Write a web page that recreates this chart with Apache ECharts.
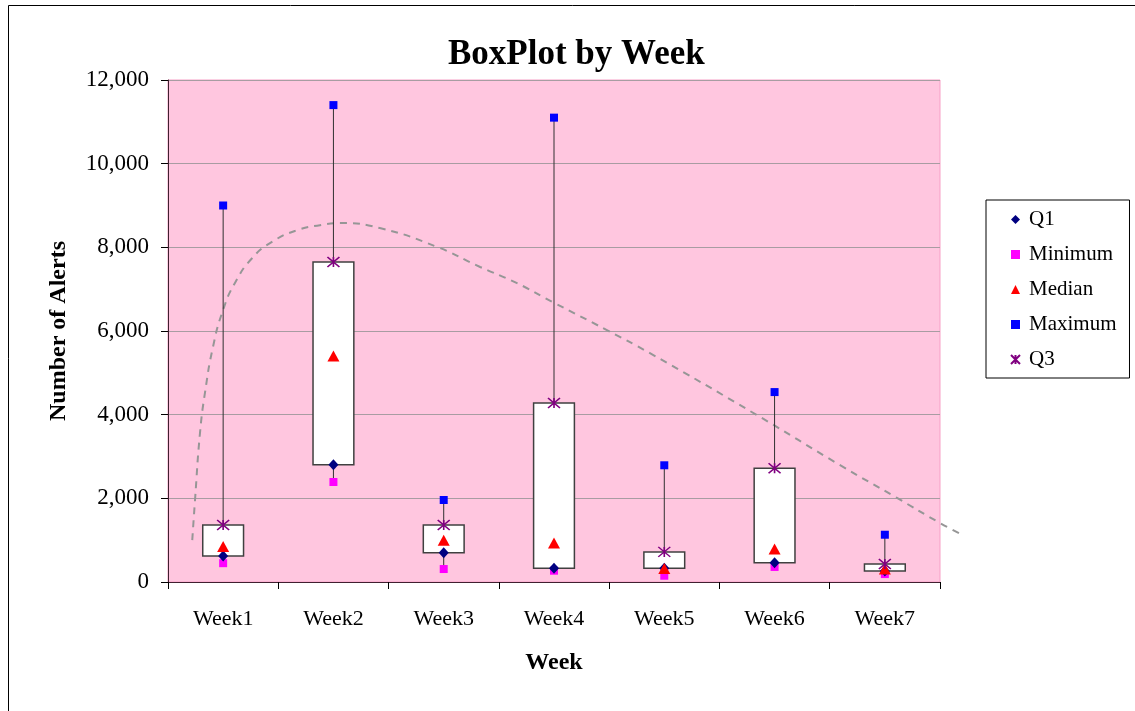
<!DOCTYPE html>
<html>
<head>
<meta charset="utf-8">
<script src="https://cdn.jsdelivr.net/npm/echarts@6/dist/echarts.min.js"></script>
<style>
html,body{margin:0;padding:0;background:#fff;}
#chart{width:1135px;height:711px;}
</style>
</head>
<body>
<div id="chart"></div>
<script>
// ---- data ----
var categories = ['Week1', 'Week2', 'Week3', 'Week4', 'Week5', 'Week6', 'Week7'];
var q1Values = [620, 2800, 700, 330, 330, 460, 260];
var minimumValues = [450, 2390, 310, 270, 150, 360, 190];
var medianValues = [850, 5400, 1000, 930, 320, 790, 310];
var maximumValues = [9000, 11400, 1960, 11100, 2790, 4540, 1130];
var q3Values = [1362, 7650, 1362, 4280, 720, 2720, 430];
var yTicks = [0, 2000, 4000, 6000, 8000, 10000, 12000];
// trend curve (x in category units, 0..7 spans the plot width)
var trendX = [0.22, 0.245, 0.29, 0.335, 0.408, 0.499, 0.607, 0.762, 0.943, 1.17, 1.378, 1.56, 1.92, 2.44, 2.83, 3.16, 3.49, 3.98, 4.37, 5.34, 6.09, 6.61, 7.0, 7.21];
var trendY = [1000, 1960, 3560, 4520, 5620, 6500, 7150, 7740, 8130, 8410, 8530, 8580, 8460, 8010, 7530, 7150, 6690, 6020, 5470, 3990, 2800, 2010, 1410, 1120];

var serif = '"Liberation Serif", "DejaVu Serif", serif';
var boxData = categories.map(function (c, i) {
  return [i, minimumValues[i], q1Values[i], q3Values[i], maximumValues[i]];
});
var trendData = trendX.map(function (x, i) { return [x, trendY[i]]; });
var starPath = 'path://M0,0L10,10M10,0L0,10M5,0L5,10';

// plot geometry
var gLeft = 168, gRight = 195, gTop = 80, gBottom = 129;
var plotW = 1135 - gLeft - gRight;
var trendMax = 7.3;
var trendGridW = plotW * trendMax / 7;

var chart = echarts.init(document.getElementById('chart'), null, {renderer: 'canvas'});
chart.setOption({
  animation: false,
  backgroundColor: '#ffffff',
  graphic: [{
    type: 'rect', z: 100, silent: true,
    shape: {x: 8.5, y: 5.5, width: 1300, height: 900},
    style: {fill: 'none', stroke: '#000', lineWidth: 1}
  }],
  title: {
    text: 'BoxPlot by Week', left: 443, top: 32,
    textStyle: {fontFamily: serif, fontSize: 35, fontWeight: 'bold', color: '#000'}
  },
  legend: {
    orient: 'vertical', left: 986, top: 200,
    padding: [9, 13, 8, 24], itemGap: 14,
    itemWidth: 9, itemHeight: 9,
    borderColor: '#000', borderWidth: 1, backgroundColor: '#fff',
    textStyle: {fontFamily: serif, fontSize: 21, color: '#000', padding: [0, 0, 0, 4]},
    data: ['Q1', 'Minimum', 'Median', 'Maximum', 'Q3']
  },
  grid: [{
    left: gLeft, right: gRight, top: gTop, bottom: gBottom,
    show: true, backgroundColor: '#ffc6df', borderColor: '#f7a0c6', borderWidth: 1
  }, {
    left: gLeft, width: trendGridW, top: gTop, bottom: gBottom, show: false
  }],
  xAxis: [{
    type: 'category', data: categories, boundaryGap: true, gridIndex: 0,
    name: 'Week', nameLocation: 'middle', nameGap: 69,
    nameTextStyle: {fontFamily: serif, fontSize: 24, fontWeight: 'bold', color: '#000'},
    axisLine: {lineStyle: {color: '#402030', width: 1}},
    axisTick: {show: true, length: 7, lineStyle: {color: '#000'}},
    axisLabel: {fontFamily: serif, fontSize: 22, color: '#000', margin: 26},
    splitLine: {show: false}
  }, {
    type: 'value', gridIndex: 1, min: 0, max: trendMax, show: false
  }],
  yAxis: [{
    type: 'value', gridIndex: 0, min: 0, max: 12000, interval: 2000,
    name: 'Number of Alerts', nameLocation: 'middle', nameGap: 97, nameRotate: 90,
    nameTextStyle: {fontFamily: serif, fontSize: 24, fontWeight: 'bold', color: '#000'},
    axisLine: {show: true, lineStyle: {color: '#402030', width: 1}},
    axisTick: {show: true, length: 7, lineStyle: {color: '#000'}},
    axisLabel: {
      fontFamily: serif, fontSize: 23, color: '#000', margin: 19,
      formatter: function (v) { return yTicks.indexOf(v) >= 0 ? v.toLocaleString('en-US') : ''; }
    },
    splitLine: {show: true, lineStyle: {color: '#a89ca2', width: 1}}
  }, {
    type: 'value', gridIndex: 1, min: 0, max: 12000, show: false
  }],
  series: [{
    type: 'custom', name: 'box', xAxisIndex: 0, yAxisIndex: 0, z: 2,
    data: boxData,
    encode: {x: 0, y: [1, 2, 3, 4]},
    renderItem: function (params, api) {
      var i = api.value(0);
      var pMin = api.coord([i, api.value(1)]);
      var pQ1 = api.coord([i, api.value(2)]);
      var pQ3 = api.coord([i, api.value(3)]);
      var pMax = api.coord([i, api.value(4)]);
      var w = api.size([1, 0])[0] * 0.37;
      var x = pQ1[0];
      return {
        type: 'group',
        children: [{
          type: 'line', shape: {x1: x, y1: pMax[1], x2: x, y2: pQ3[1]},
          style: {stroke: '#303030', lineWidth: 1}
        }, {
          type: 'line', shape: {x1: x, y1: pQ1[1], x2: x, y2: pMin[1]},
          style: {stroke: '#303030', lineWidth: 1}
        }, {
          type: 'rect', shape: {x: x - w / 2, y: pQ3[1], width: w, height: pQ1[1] - pQ3[1]},
          style: {fill: '#ffffff', stroke: '#404040', lineWidth: 1.5}
        }]
      };
    }
  }, {
    type: 'line', name: 'trend', xAxisIndex: 1, yAxisIndex: 1, data: trendData, smooth: true,
    showSymbol: false, clip: false, z: 1, silent: true,
    lineStyle: {color: '#969696', width: 2, type: [7, 6]}
  }, {
    type: 'scatter', name: 'Q1', data: q1Values, symbol: 'diamond', symbolSize: [10, 11], z: 5,
    itemStyle: {color: '#000080', opacity: 1}
  }, {
    type: 'scatter', name: 'Minimum', data: minimumValues, symbol: 'rect', symbolSize: 8, z: 4,
    itemStyle: {color: '#ff00ff', opacity: 1}
  }, {
    type: 'scatter', name: 'Median', data: medianValues, symbol: 'triangle', symbolSize: [12, 11], z: 6,
    itemStyle: {color: '#ff0000', opacity: 1}
  }, {
    type: 'scatter', name: 'Maximum', data: maximumValues, symbol: 'rect', symbolSize: 8, z: 5,
    itemStyle: {color: '#0000ff', opacity: 1}
  }, {
    type: 'scatter', name: 'Q3', data: q3Values, symbol: starPath, symbolSize: [12, 10], z: 7,
    itemStyle: {color: '#800080', borderColor: '#800080', borderWidth: 1.5, opacity: 1}
  }]
});
</script>
</body>
</html>
